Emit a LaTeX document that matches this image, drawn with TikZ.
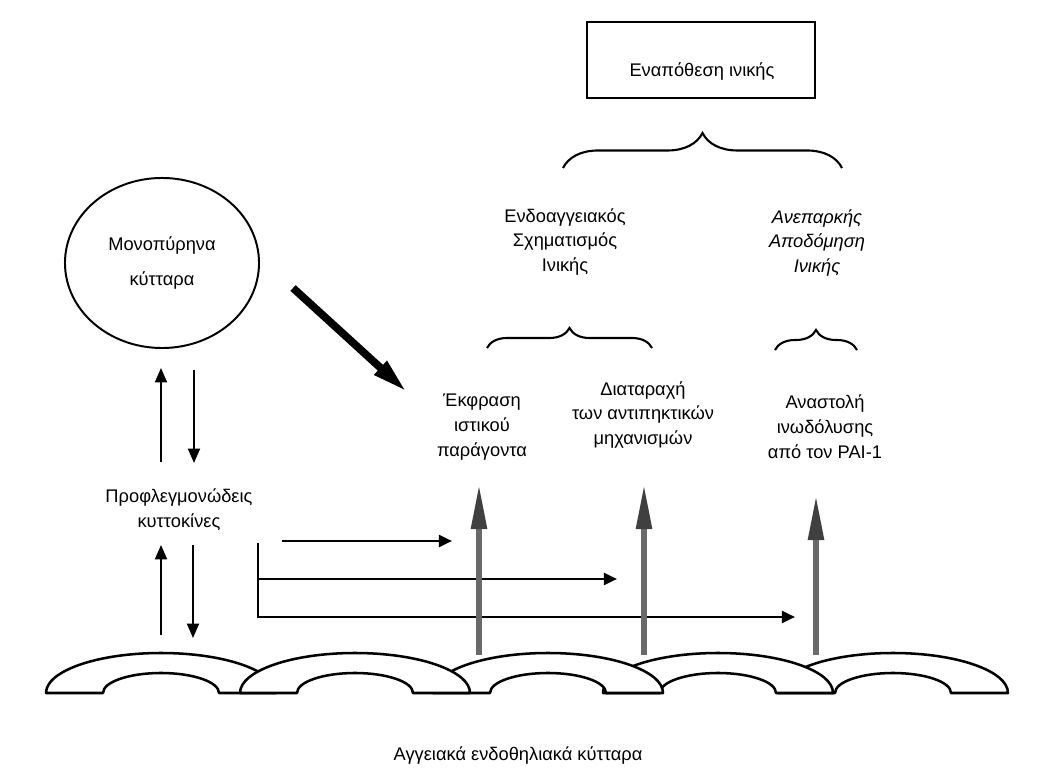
\documentclass[tikz,border=0pt]{standalone}
\usepackage{fontspec}
\setmainfont{Liberation Sans}
\usetikzlibrary{arrows.meta,shapes.geometric,decorations.pathreplacing}
\definecolor{greyarrow}{RGB}{105,105,105}
\begin{document}
\begin{tikzpicture}[x=0.025cm,y=0.025cm,
  lbl/.style={font=\fontsize{13}{17.7}\selectfont, align=center, inner sep=0pt},
  harrow/.style={line width=2pt, -{Triangle[length=0.33cm,width=0.3cm]}},
  varrow/.style={line width=1.3pt, -{Triangle[length=0.36cm,width=0.3cm]}},
  garrow/.style={line width=3.6pt, draw=greyarrow, -{Triangle[length=1.1cm,width=0.38cm,fill=black!75,color=black!75]}},
  darrow/.style={line width=5.5pt, -{Triangle[length=0.9cm,width=0.42cm]}},
  cell/.style={line width=1.8pt, fill=white, line join=round},
  brc/.style={decorate, line width=1.5pt, decoration={brace, amplitude=#1}}]
\useasboundingbox (0,0) rectangle (1048,771);

% top box
\node[draw, line width=1.8pt, minimum width=5.7cm, minimum height=1.9cm] (box) at (701,711) {};
\node[lbl, anchor=base] (boxtext) at (702,694) {Εναπόθεση ινικής};

% braces
\draw[brc=0.875cm] (563,603) -- (842,603);
\draw[brc=0.5cm] (487,423) -- (652,423);
\draw[brc=0.5cm] (775,421) -- (857,421);

% texts
\node[lbl] (endo) at (565,529) {Ενδοαγγειακός\\Σχηματισμός\\Ινικής};
\node[lbl, font=\fontsize{13}{17.7}\selectfont\itshape] (anep) at (817,528) {Ανεπαρκής\\Αποδόμηση\\Ινικής};
\node[lbl] (ekfr) at (482,344) {Έκφραση\\ιστικού\\παράγοντα};
\node[lbl] (diat) at (643,356) {Διαταραχή\\των αντιπηκτικών\\μηχανισμών};
\node[lbl] (anas) at (825,344) {Αναστολή\\ινωδόλυσης\\από τον PAI-1};
\node[lbl] (profl) at (179,261) {Προφλεγμονώδεις\\κυττοκίνες};
\node[lbl, anchor=base] (endoth) at (518,11) {Αγγειακά ενδοθηλιακά κύτταρα};

% mononuclear cells
\node[draw, ellipse, line width=1.4pt, minimum width=4.85cm, minimum height=4.25cm, lbl] (mono) at (162,508) {Μονοπύρηνα\\[0.25cm]κύτταρα};

% small vertical arrows
\coordinate (u1a) at (161,309); \coordinate (u1b) at (161,403);
\coordinate (d1a) at (194,401); \coordinate (d1b) at (194,308);
\coordinate (u2a) at (161,136); \coordinate (u2b) at (161,226);
\coordinate (d2a) at (193,226); \coordinate (d2b) at (193,133);
\draw[varrow] (u1a) -- (u1b);
\draw[varrow] (d1a) -- (d1b);
\draw[varrow] (u2a) -- (u2b);
\draw[varrow] (d2a) -- (d2b);

% diagonal arrow
\coordinate (dga) at (293,483); \coordinate (dgb) at (407,379);
\draw[darrow] (dga) -- (dgb);

% horizontal arrows
\coordinate (h1a) at (282,230); \coordinate (h1b) at (452,230);
\coordinate (hs) at (258,228); \coordinate (hc) at (258,154);
\coordinate (h2a) at (258,192); \coordinate (h2b) at (617,192);
\coordinate (h3b) at (795,154);
\draw[harrow] (h1a) -- (h1b);
\draw[harrow] (h2a) -- (h2b);
\draw[harrow] (hs) -- (hc) -- (h3b);

% grey vertical arrows
\coordinate (g1a) at (479,116); \coordinate (g1b) at (479,286);
\coordinate (g2a) at (644,116); \coordinate (g2b) at (644,286);
\coordinate (g3a) at (816,116); \coordinate (g3b) at (816,275);
\draw[garrow] (g1a) -- (g1b);
\draw[garrow] (g2a) -- (g2b);
\draw[garrow] (g3a) -- (g3b);

% endothelial cells
\foreach \c in {161,893,718,548,355}{
  \draw[cell] (\c-115,78) -- (\c-58,78)
     arc[start angle=180,end angle=0,x radius=58,y radius=20]
     -- (\c+115,78)
     arc[start angle=0,end angle=180,x radius=115,y radius=40] -- cycle;
}
\end{tikzpicture}
\end{document}
